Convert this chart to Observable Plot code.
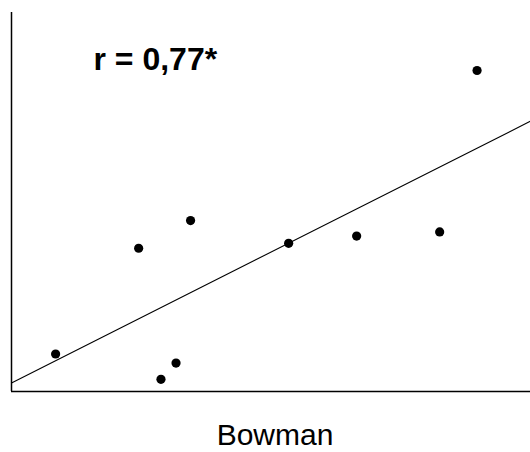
<!DOCTYPE html>
<html>
<head>
<meta charset="utf-8">
<script src="https://cdn.jsdelivr.net/npm/d3@7"></script>
<script src="https://cdn.jsdelivr.net/npm/@observablehq/plot@0.6"></script>
<style>
  html, body { margin: 0; padding: 0; background: #fff; }
  #chart svg { display: block; }
</style>
</head>
<body>
<div id="chart"></div>
<script>
// Bowman index (x) against the paired measure (y), one dot per sample
const bowman = [8.5, 24.5, 28.8, 31.7, 34.5, 53.4, 66.5, 82.5, 89.7];
const measure = [9.9, 37.8, 3.2, 7.5, 45.1, 39.1, 41.0, 42.1, 84.7];
const xLabel = "Bowman";
const rLabel = "r = 0,77*";
const xDomain = [0, 100];
const yDomain = [0, 100];

const points = bowman.map((x, i) => ({x, y: measure[i]}));

// ordinary least squares fit, drawn across the whole x domain
const mx = d3.mean(bowman), my = d3.mean(measure);
const sxy = d3.sum(points, d => (d.x - mx) * (d.y - my));
const sxx = d3.sum(points, d => (d.x - mx) ** 2);
const slope = sxy / sxx;
const intercept = my - slope * mx;
const fit = xDomain.map(x => ({x, y: intercept + slope * x}));

const font = "'Liberation Sans', Arial, Helvetica, sans-serif";

const chart = Plot.plot({
  width: 530,
  height: 452,
  marginLeft: 11,
  marginRight: 0,
  marginTop: 12,
  marginBottom: 61,
  style: {fontFamily: font, background: "#fff"},
  x: {domain: xDomain, axis: null},
  y: {domain: yDomain, axis: null},
  marks: [
    Plot.ruleX([xDomain[0]], {stroke: "#000", strokeWidth: 1.5}),
    Plot.ruleY([yDomain[0]], {stroke: "#000", strokeWidth: 1.5}),
    Plot.line(fit, {x: "x", y: "y", stroke: "#000", strokeWidth: 1.1}),
    Plot.dot(points, {x: "x", y: "y", r: 4.6, fill: "#000", stroke: "none"}),
    Plot.text([rLabel], {
      frameAnchor: "top-left", dx: 82, dy: 35,
      textAnchor: "start", lineAnchor: "top",
      fontSize: 32, fontWeight: "bold", fill: "#000"
    }),
    Plot.text([xLabel], {
      frameAnchor: "bottom", dx: 4, dy: 53,
      lineAnchor: "bottom", fontSize: 30, fill: "#000"
    })
  ]
});

document.getElementById("chart").append(chart);
</script>
</body>
</html>
